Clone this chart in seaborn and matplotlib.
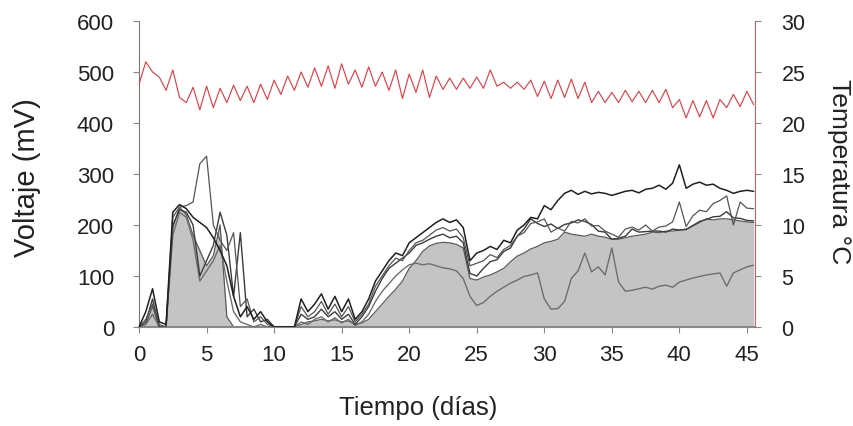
import numpy as np
import pandas as pd
import matplotlib
matplotlib.use("Agg")
import matplotlib.pyplot as plt
import seaborn as sns

# ---- data (time grid every 0.5 days) ----
dias = [i * 0.5 for i in range(92)]

serie_1 = [0, 30, 75, 10, 5, 225, 240, 232, 215, 205, 195, 175, 150, 120, 60, 20, 40, 15, 30, 10, 0,
           0, 0, 0,
           55, 30, 45, 65, 35, 60, 30, 55, 15, 30, 55,
           90, 110, 130, 145, 140, 165, 175, 185, 195, 205, 212, 205, 210, 195, 130, 145,
           150, 158, 152, 170, 165, 190, 200, 215, 212, 238,
           230, 248, 262, 268, 260, 266, 261, 264, 262, 258,
           262, 266, 268, 263, 270, 272, 278, 270, 282, 318,
           272, 280, 284, 278, 280, 272, 268, 262, 266, 268, 266]

serie_2 = [0, 15, 45, 5, 0, 215, 235, 238, 245, 320, 335, 200, 170, 150, 185, 40, 55, 10, 20, 5, 0,
           0, 0, 0,
           40, 20, 30, 50, 25, 45, 20, 40, 10, 25, 45,
           80, 100, 120, 135, 130, 150, 165, 170, 180, 190, 195, 188, 192, 175, 120, 125,
           130, 142, 136, 152, 160, 178, 185, 203, 206, 212,
           186, 194, 188, 207, 204, 212, 198, 199, 188, 182,
           176, 192, 196, 190, 200, 188, 196, 198, 206, 245,
           197, 218, 229, 226, 242, 248, 257, 200, 245, 233, 232]

serie_3 = [0, 10, 55, 0, 0, 200, 230, 225, 200, 100, 130, 160, 225, 180, 60, 185, 20, 35, 10, 15, 0,
           0, 0, 0,
           25, 15, 20, 35, 20, 30, 15, 25, 5, 20, 40,
           70, 95, 115, 125, 135, 145, 160, 165, 172, 178, 182, 175, 178, 165, 105, 100,
           115, 128, 132, 148, 155, 178, 192, 212, 203, 197,
           202, 193, 201, 204, 210, 207, 201, 188, 186, 172,
           174, 178, 192, 186, 187, 188, 188, 186, 192, 190,
           191, 199, 207, 211, 216, 217, 226, 214, 213, 209, 208]

serie_relleno = [0, 5, 40, 0, 0, 195, 235, 220, 180, 150, 120, 140, 200, 20, 0, 0, 0, 0, 0, 0, 0,
                 0, 0, 0,
                 5, 10, 12, 15, 12, 14, 10, 12, 5, 8, 15,
                 30, 45, 60, 74, 90, 115, 130, 148, 159, 164, 166, 165, 162, 155, 95, 92,
                 98, 102, 108, 115, 128, 139, 145, 153, 158, 165,
                 168, 172, 186, 182, 180, 178, 182, 178, 176, 172,
                 172, 175, 178, 180, 182, 186, 185, 188, 188, 190,
                 192, 198, 205, 212, 210, 212, 212, 210, 208, 206, 205]

serie_5 = [0, 5, 25, 0, 0, 180, 225, 215, 170, 90, 110, 130, 160, 90, 30, 10, 5, 0, 5, 0, 0,
           0, 0, 0,
           10, 5, 15, 20, 10, 18, 8, 15, 3, 10, 25,
           50, 70, 85, 100, 112, 122, 125, 122, 124, 120, 116, 114, 110, 95, 60, 42,
           48, 60, 70, 78, 86, 92, 99, 102, 106, 55,
           35, 36, 50, 95, 110, 145, 108, 118, 102, 155,
           88, 70, 72, 75, 78, 74, 80, 82, 78, 88,
           92, 96, 99, 102, 104, 106, 80, 106, 112, 118, 121]

temperatura = [23.8, 26.0, 25.0, 24.5, 23.2, 25.2, 22.5, 22.0,
               23.5, 21.3, 23.6, 21.5, 23.4, 22.0, 23.7, 22.2, 23.6, 22.0, 23.8, 22.3,
               24.2, 22.8, 24.6, 23.2, 25.0, 23.5, 25.4, 23.6, 25.6, 23.4, 25.8, 23.8,
               25.2, 23.5, 25.5, 23.6, 25.0, 23.2, 25.2, 22.4, 24.8, 23.0, 25.2, 22.5,
               24.6, 23.3, 24.4, 23.3, 24.4, 23.4, 24.5, 23.4, 25.2, 23.6, 24.0, 23.4,
               24.0, 23.3, 24.2, 22.6, 24.1, 22.4, 24.2, 22.5, 24.3, 22.4, 24.0, 22.0,
               23.1, 22.0, 23.0, 22.0, 23.2, 22.1, 23.1, 22.0, 23.2, 22.0, 23.3, 21.5,
               22.3, 20.5, 22.2, 20.6, 22.2, 20.5, 22.3, 21.5, 22.8, 21.6, 23.1, 21.8]

x_ticks = [0, 5, 10, 15, 20, 25, 30, 35, 40, 45]
y_ticks = [0, 100, 200, 300, 400, 500, 600]
t_ticks = [0, 5, 10, 15, 20, 25, 30]

# ---- style ----
sns.set_style("white")
plt.rcParams["font.family"] = ["Liberation Sans", "DejaVu Sans"]

fig = plt.figure(figsize=(8.54, 4.27), dpi=100)
ax = fig.add_axes([0.1628, 0.2319, 0.7213, 0.7166])

df = pd.DataFrame({"dias": dias, "s1": serie_1, "s2": serie_2, "s3": serie_3,
                   "rel": serie_relleno, "s5": serie_5, "temp": temperatura})

ax.fill_between(df["dias"], 0, df["rel"], color="#c4c4c4", linewidth=0, zorder=1)
sns.lineplot(data=df, x="dias", y="rel", ax=ax, color="#5a5a5a", linewidth=0.9, zorder=2)
sns.lineplot(data=df, x="dias", y="s5", ax=ax, color="#6e6e6e", linewidth=1.0, zorder=3)
sns.lineplot(data=df, x="dias", y="s3", ax=ax, color="#3c3c3c", linewidth=1.0, zorder=3)
sns.lineplot(data=df, x="dias", y="s2", ax=ax, color="#555555", linewidth=0.9, zorder=3)
sns.lineplot(data=df, x="dias", y="s1", ax=ax, color="#202020", linewidth=1.1, zorder=4)

ax.set_xlim(0, 45.6)
ax.set_ylim(0, 600)
ax.set_xticks(x_ticks)
ax.set_yticks(y_ticks)
ax.set_xlabel("Tiempo (días)", fontsize=18.5, color="#222222")
ax.set_ylabel("Voltaje (mV)", fontsize=21, color="#222222")
ax.xaxis.label.set_va("center")
ax.yaxis.label.set_va("center")
ax.xaxis.set_label_coords(0.453, -0.261)
ax.yaxis.set_label_coords(-0.182, 0.49)
ax.tick_params(axis="x", labelsize=16, length=4, pad=8, color="#888888", bottom=True,
               labelcolor="#222222")
ax.tick_params(axis="y", labelsize=16, length=4, pad=14, color="#888888", left=True,
               labelcolor="#222222")
for s in ["top", "right"]:
    ax.spines[s].set_visible(False)
ax.spines["left"].set_color("#777777")
ax.spines["bottom"].set_color("#888888")
ax.spines["bottom"].set_linewidth(1.5)

ax2 = ax.twinx()
sns.lineplot(data=df, x="dias", y="temp", ax=ax2, color="#e8353b", linewidth=0.8)
ax2.set_ylim(0, 30)
ax2.set_xlim(0, 45.6)
ax2.set_yticks(t_ticks)
ax2.set_ylabel("Temperatura °C", fontsize=19, rotation=270, color="#222222")
ax2.yaxis.label.set_va("center")
ax2.yaxis.set_label_coords(1.136, 0.51)
ax2.tick_params(axis="y", labelsize=15.5, length=4, pad=15, color="#888888", right=True,
                labelcolor="#222222")
for s in ["top", "left", "bottom"]:
    ax2.spines[s].set_visible(False)
ax2.spines["right"].set_color("#d06060")
ax2.set_xlabel("")

fig.savefig("out.png", dpi=100)
